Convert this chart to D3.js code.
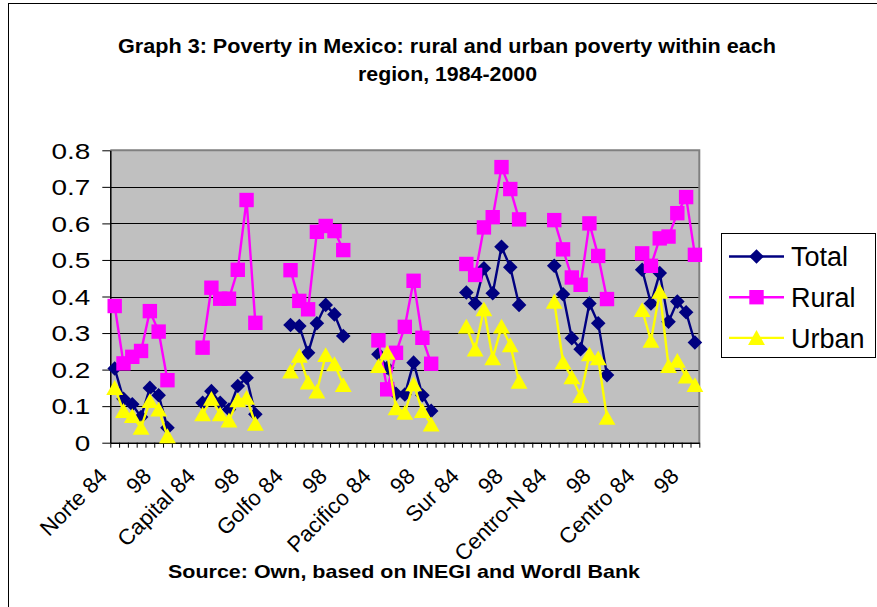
<!DOCTYPE html>
<html>
<head>
<meta charset="utf-8">
<script src="https://cdn.jsdelivr.net/npm/d3@7"></script>
<style>
  html, body { margin: 0; padding: 0; background: #ffffff; }
  svg { display: block; font-family: "Liberation Sans", Arial, sans-serif; }
</style>
</head>
<body>
<svg id="chart" width="877" height="607"></svg>
<script>
// Poverty headcount by region; each region holds 7 survey years, followed by 3 empty slots
const regions = ["Norte", "Capital", "Golfo", "Pacifico", "Sur", "Centro-N", "Centro"];
const years = ["84", "89", "92", "94", "96", "98", "2000"];
const slotsPerRegion = 10;

const total = [
  [0.203, 0.120, 0.105, 0.070, 0.150, 0.130, 0.041],
  [0.109, 0.141, 0.109, 0.091, 0.155, 0.178, 0.078],
  [0.322, 0.319, 0.246, 0.327, 0.377, 0.351, 0.292],
  [0.242, 0.205, 0.134, 0.132, 0.219, 0.130, 0.087],
  [0.411, 0.381, 0.477, 0.409, 0.536, 0.480, 0.377],
  [0.484, 0.406, 0.286, 0.256, 0.381, 0.327, 0.185],
  [0.473, 0.381, 0.464, 0.331, 0.386, 0.357, 0.274]
];
const rural = [
  [0.374, 0.217, 0.235, 0.251, 0.360, 0.304, 0.171],
  [0.260, 0.424, 0.394, 0.394, 0.473, 0.664, 0.328],
  [0.472, 0.388, 0.365, 0.577, 0.593, 0.579, 0.527],
  [0.280, 0.146, 0.246, 0.317, 0.443, 0.287, 0.216],
  [0.489, 0.459, 0.589, 0.617, 0.754, 0.694, 0.611],
  [0.609, 0.529, 0.452, 0.432, 0.600, 0.511, 0.393],
  [0.518, 0.484, 0.559, 0.564, 0.628, 0.672, 0.514]
];
const urban = [
  [0.150, 0.087, 0.073, 0.041, 0.114, 0.091, 0.018],
  [0.078, 0.120, 0.078, 0.061, 0.116, 0.123, 0.052],
  [0.195, 0.238, 0.165, 0.140, 0.240, 0.215, 0.158],
  [0.210, 0.246, 0.094, 0.082, 0.160, 0.087, 0.050],
  [0.318, 0.255, 0.365, 0.231, 0.318, 0.267, 0.167],
  [0.386, 0.220, 0.179, 0.128, 0.242, 0.231, 0.068],
  [0.363, 0.279, 0.413, 0.210, 0.224, 0.181, 0.158]
];

const yTicks = [0, 0.1, 0.2, 0.3, 0.4, 0.5, 0.6, 0.7, 0.8];
const yTickLabels = ["0", "0.1", "0.2", "0.3", "0.4", "0.5", "0.6", "0.7", "0.8"];
const xTickLabels = ["Norte 84", "98", "Capital 84", "98", "Golfo 84", "98", "Pacifico 84", "98",
                     "Sur 84", "98", "Centro-N 84", "98", "Centro 84", "98"];
const xLabelEvery = 5;

const seriesNames = ["Total", "Rural", "Urban"];
const seriesData = [total, rural, urban];
const seriesColors = ["#000080", "#ff00ff", "#ffff00"];
const seriesShapes = ["diamond", "square", "triangle"];

const titleLines = ["Graph 3: Poverty in Mexico: rural and urban poverty within each", "region, 1984-2000"];
const sourceText = "Source: Own, based on INEGI and Wordl Bank";

// ---- layout ----
const plot = { left: 110.3, right: 699.3, top: 150.3, bottom: 442.7 };
const nCats = (regions.length - 1) * slotsPerRegion + years.length; // 67

const svg = d3.select("#chart");

// outer chart frame
svg.append("rect")
  .attr("x", 8.5).attr("y", 3.5).attr("width", 900).attr("height", 700)
  .attr("fill", "#ffffff").attr("stroke", "#000000").attr("stroke-width", 1);

const x = d3.scaleBand().domain(d3.range(nCats)).range([plot.left, plot.right]).paddingInner(0).paddingOuter(0);
const xEdge = d3.scaleLinear().domain([0, nCats]).range([plot.left, plot.right]);
const y = d3.scaleLinear().domain([0, 0.8]).range([plot.bottom, plot.top]);
const cx = i => x(i) + x.bandwidth() / 2;

// plot background
svg.append("rect")
  .attr("x", plot.left).attr("y", plot.top)
  .attr("width", plot.right - plot.left).attr("height", plot.bottom - plot.top)
  .attr("fill", "#c0c0c0");

// horizontal gridlines
svg.append("g").selectAll("line")
  .data(yTicks.filter(v => v > 0 && v < 0.8))
  .join("line")
  .attr("x1", plot.left).attr("x2", plot.right)
  .attr("y1", d => Math.round(y(d)) + 0.5).attr("y2", d => Math.round(y(d)) + 0.5)
  .attr("stroke", "#000000").attr("stroke-width", 1);

// plot border (top and right in grey)
svg.append("path")
  .attr("d", `M${plot.left},${plot.top}H${plot.right}V${plot.bottom}`)
  .attr("fill", "none").attr("stroke", "#808080").attr("stroke-width", 2);

// y axis
const yAxis = svg.append("g")
  .attr("transform", `translate(${plot.left},0)`)
  .call(d3.axisLeft(y).tickValues(yTicks).tickFormat((d, i) => yTickLabels[i]).tickSize(8).tickSizeOuter(0));
yAxis.select(".domain").attr("stroke", "#000").attr("stroke-width", 1.5);
yAxis.selectAll(".tick line").attr("stroke", "#000").attr("stroke-width", 1);
yAxis.selectAll(".tick text")
  .attr("x", 0).attr("dy", "0.36em")
  .attr("transform", "translate(-20,0) scale(1.3,1)")
  .attr("font-size", 21.5).attr("font-family", "'Liberation Sans', Arial, sans-serif")
  .attr("fill", "#000");

// x axis: tick marks on category boundaries
const xAxis = svg.append("g")
  .attr("transform", `translate(0,${plot.bottom})`)
  .call(d3.axisBottom(xEdge).tickValues(d3.range(nCats + 1)).tickFormat("").tickSize(5).tickSizeOuter(0));
xAxis.select(".domain").attr("stroke", "#000").attr("stroke-width", 1.5);
xAxis.selectAll(".tick line").attr("stroke", "#000").attr("stroke-width", 1);

// rotated category labels
svg.append("g").selectAll("text")
  .data(xTickLabels)
  .join("text")
  .attr("transform", (d, i) => `translate(${cx(i * xLabelEvery) - 6},${plot.bottom + 35}) rotate(-45)`)
  .attr("text-anchor", "end")
  .attr("font-size", 22)
  .attr("fill", "#000")
  .text(d => d);

// series
const symbolPath = {
  diamond: s => `M0,${-s}L${s},0L0,${s}L${-s},0Z`,
  square: s => `M${-s},${-s}H${s}V${s}H${-s}Z`,
  triangle: s => `M0,${-s}L${s * 1.08},${s * 0.9}H${-s * 1.08}Z`
};
const markerSize = { diamond: 7.3, square: 7.2, triangle: 7.8 };

const line = d3.line().x(d => cx(d.i)).y(d => y(d.v));

seriesData.forEach((data, si) => {
  const g = svg.append("g");
  const pts = data.map((vals, r) => vals.map((v, k) => ({ i: r * slotsPerRegion + k, v })));
  g.selectAll("path.line")
    .data(pts)
    .join("path")
    .attr("class", "line")
    .attr("d", line)
    .attr("fill", "none")
    .attr("stroke", seriesColors[si])
    .attr("stroke-width", 2.4)
    .attr("stroke-linejoin", "round");
  g.selectAll("path.mark")
    .data(pts.flat())
    .join("path")
    .attr("class", "mark")
    .attr("transform", d => `translate(${cx(d.i)},${y(d.v)})`)
    .attr("d", symbolPath[seriesShapes[si]](markerSize[seriesShapes[si]]))
    .attr("fill", seriesColors[si]);
});

// legend
const legend = svg.append("g");
legend.append("rect")
  .attr("x", 721.5).attr("y", 233.5).attr("width", 154).attr("height", 124)
  .attr("fill", "#ffffff").attr("stroke", "#000").attr("stroke-width", 1);
seriesNames.forEach((name, si) => {
  const yy = 256.5 + si * 40.7;
  legend.append("line")
    .attr("x1", 729).attr("x2", 784).attr("y1", yy).attr("y2", yy)
    .attr("stroke", seriesColors[si]).attr("stroke-width", 2.4);
  legend.append("path")
    .attr("transform", `translate(756.5,${yy})`)
    .attr("d", symbolPath[seriesShapes[si]](markerSize[seriesShapes[si]]))
    .attr("fill", seriesColors[si]);
  legend.append("text")
    .attr("x", 791).attr("y", yy).attr("dy", "0.36em")
    .attr("font-size", 27).attr("fill", "#000")
    .text(name);
});

// title
const title = svg.append("g").attr("font-weight", "bold").attr("font-size", 21).attr("fill", "#000");
title.append("text").attr("x", 447).attr("y", 52.5).attr("text-anchor", "middle")
  .attr("textLength", 658).attr("lengthAdjust", "spacingAndGlyphs").text(titleLines[0]);
title.append("text").attr("x", 447.5).attr("y", 80.5).attr("text-anchor", "middle")
  .attr("textLength", 179).attr("lengthAdjust", "spacingAndGlyphs").text(titleLines[1]);

// source note
svg.append("text")
  .attr("x", 404).attr("y", 578).attr("text-anchor", "middle")
  .attr("font-weight", "bold").attr("font-size", 18.5)
  .attr("textLength", 472).attr("lengthAdjust", "spacingAndGlyphs")
  .attr("fill", "#000").text(sourceText);
</script>
</body>
</html>
